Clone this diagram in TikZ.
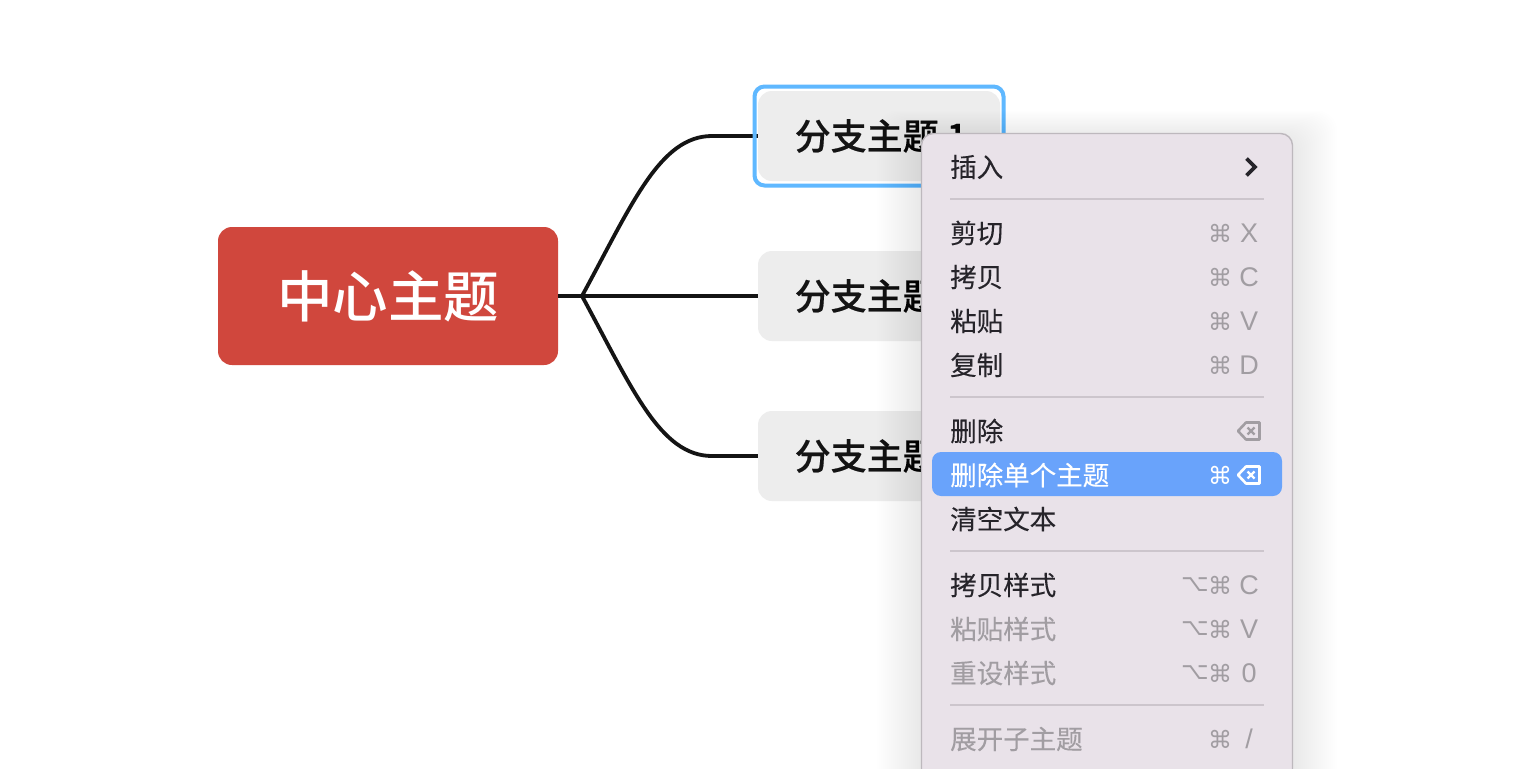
\documentclass[tikz,border=0pt]{standalone}
\usepackage{fontspec}
\setmainfont{Noto Sans CJK SC}[FakeBold=0.15]
\newfontfamily\cjkmedium{Noto Sans CJK SC Medium}
\newfontfamily\cjkbold{Noto Sans CJK SC Medium}[FakeBold=0.4]
\newfontfamily\symfont{DejaVu Sans}
\newfontfamily\latinfont{Liberation Sans}
\usetikzlibrary{calc}
\definecolor{topicred}{HTML}{D0473D}
\definecolor{branchgray}{HTML}{EDEDED}
\definecolor{selblue}{HTML}{5FB8FF}
\definecolor{linedark}{HTML}{141414}
\definecolor{menubg}{HTML}{E9E2E9}
\definecolor{menurule}{HTML}{CCC5CC}
\definecolor{menuborder}{HTML}{BDB8BD}
\definecolor{menutext}{HTML}{26242A}
\definecolor{menugray}{HTML}{A19DA2}
\definecolor{hilite}{HTML}{69A3FB}
\tikzset{
  x=1pt,y=-1pt,
  topicbox/.style={fill=topicred,rounded corners=14pt,inner sep=0pt,minimum width=340pt,minimum height=138pt,text=white,font=\cjkmedium\fontsize{55.5}{55.5}\selectfont},
  branchbox/.style={fill=branchgray,rounded corners=14pt,inner sep=0pt,minimum width=242pt,minimum height=90pt},
  branchtext/.style={anchor=west,inner sep=0pt,text=linedark,font=\cjkbold\fontsize{36}{36}\selectfont},
  conn/.style={draw=linedark,line width=3.8pt},
  mitem/.style={anchor=west,inner sep=0pt,text=menutext,font=\fontsize{26.5}{26.5}\selectfont},
  mdim/.style={mitem,text=menugray},
  msym/.style={anchor=center,inner sep=0pt,text=menugray,font=\symfont\fontsize{24}{24}\selectfont},
  mkey/.style={anchor=center,inner sep=0pt,text=menugray,font=\latinfont\fontsize{27}{27}\selectfont},
  mrule/.style={draw=menurule,line width=2pt},
}
\newcommand{\delicon}[3]{%
  \draw[#3,line width=2.6pt,line join=round] ($(#1,#2)+(-11,0)$) -- ++(8,-8.5) -- ++(13.5,0) -- ++(0,17) -- ++(-13.5,0) -- cycle;
  \draw[#3,line width=2.2pt] ($(#1,#2)+(-1.5,-3.5)$) -- ++(7,7) ($(#1,#2)+(5.5,-3.5)$) -- ++(-7,7);
}
\begin{document}
\begin{tikzpicture}
\useasboundingbox (0,0) rectangle (1514,768);
\fill[white] (0,0) rectangle (1514,768);
\node[topicbox] (center) at (388,296) {中心主题};
\node[branchbox] (b1) at (879,136) {};
\node[branchbox] (b2) at (879,296) {};
\node[branchbox] (b3) at (879,456) {};
\coordinate (fork) at (582,296);
\draw[conn] (center.east) -- (fork);
\draw[conn,line join=round] (fork) -- (b2.west);
\draw[conn] (fork) .. controls (632,204) and (660,136) .. (712,136) -- (b1.west);
\draw[conn] (fork) .. controls (632,388) and (660,456) .. (712,456) -- (b3.west);
\node[draw=selblue,line width=4pt,rounded corners=10pt,inner sep=0pt,minimum width=249pt,minimum height=99pt] (sel) at (879,136) {};
\node[branchtext] (t1) at (794.5,136) {分支主题 1};
\node[branchtext] (t2) at (794.5,296) {分支主题};
\node[branchtext] (t3) at (794.5,456) {分支主题};
% shadow
\foreach \i in {1,...,22}{
  \fill[black,opacity=0.004,rounded corners=20pt] ({921-2*\i},{133+4-1.2*\i}) rectangle ({1293+2*\i},800);
}
% menu
\fill[menubg,rounded corners=12pt] (921.5,133.5) rectangle (1292.5,800);
\draw[menuborder,line width=1.4pt,rounded corners=12pt] (921.5,133.5) rectangle (1292.5,800);
\fill[hilite,rounded corners=9pt] (932,452) rectangle (1282,496);
\foreach \y in {199,397,551,705}{ \draw[mrule] (950,\y) -- (1264,\y); }
\node[mitem] (m1) at (950,167) {插入};
\draw[menutext,line width=3.6pt,line join=miter] (1246.5,158.5) -- (1255,167) -- (1246.5,175.5);
\node[mitem] (m2) at (950,233) {剪切};
\node[mitem] (m3) at (950,277) {拷贝};
\node[mitem] (m4) at (950,321) {粘贴};
\node[mitem] (m5) at (950,365) {复制};
\node[mitem] (m6) at (950,431) {删除};
\node[mitem,text=white] (m7) at (950,475) {删除单个主题};
\node[mitem] (m8) at (950,519) {清空文本};
\node[mitem] (m9) at (950,585) {拷贝样式};
\node[mdim] (m10) at (950,629) {粘贴样式};
\node[mdim] (m11) at (950,673) {重设样式};
\node[mdim] (m12) at (950,739) {展开子主题};
\foreach \y/\k in {233/X,277/C,321/V,365/D}{
  \node[msym] at (1220,\y) {⌘};
  \node[mkey] at (1249,\y) {\k};
}
\delicon{1249}{431}{draw=menugray}
\node[msym,text=white] at (1220,475) {⌘};
\delicon{1249}{475}{draw=white}
\foreach \y/\k in {585/C,629/V,673/0}{
  \node[msym] at (1195,\y) {⌥};
  \node[msym] at (1220,\y) {⌘};
  \node[mkey] at (1249,\y) {\k};
}
\node[msym] at (1220,739) {⌘};
\node[mkey] at (1249,739) {/};
\end{tikzpicture}
\end{document}
